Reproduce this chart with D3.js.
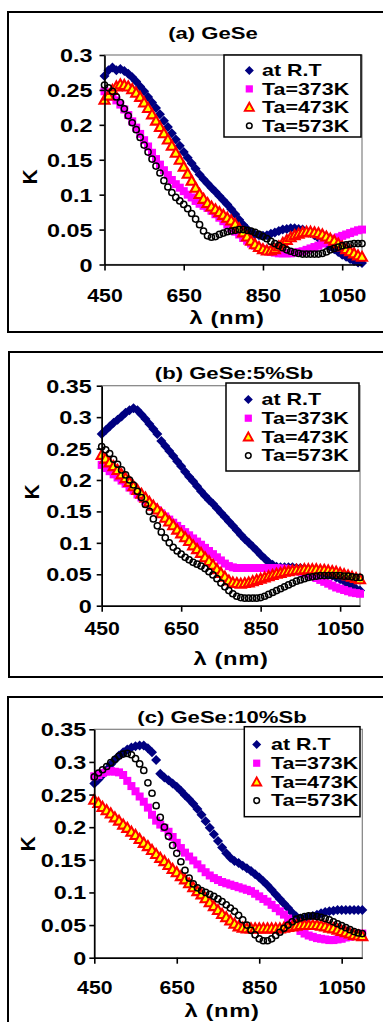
<!DOCTYPE html>
<html>
<head>
<meta charset="utf-8">
<script src="https://cdn.jsdelivr.net/npm/d3@7"></script>
<style>
body { margin: 0; background: #fff; }
svg { display: block; }
text { font-family: "Liberation Sans", Arial, sans-serif; font-weight: bold; fill: #000; }
</style>
</head>
<body>
<div id="chart"></div>
<script>
// wavelength (nm) shared by every series
const wavelengths = [450,460,470,480,490,500,510,520,530,540,
	550,560,570,580,590,600,610,620,630,640,
	650,660,670,680,690,700,710,720,730,740,
	750,760,770,780,790,800,810,820,830,840,
	850,860,870,880,890,900,910,920,930,940,
	950,960,970,980,990,1000,1010,1020,1030,1040,
	1050,1060,1070,1080,1090,1100];

const seriesNames = ["at R.T", "Ta=373K", "Ta=473K", "Ta=573K"];
const panelTitles = ["(a) GeSe", "(b) GeSe:5%Sb", "(c) GeSe:10%Sb"];
const xTicks = [450, 650, 850, 1050];
const yTicksA = [0, 0.05, 0.1, 0.15, 0.2, 0.25, 0.3];
const yTicksB = [0, 0.05, 0.1, 0.15, 0.2, 0.25, 0.3, 0.35];

// (a) GeSe
const kRtA = [0.270,0.278,0.282,0.278,0.280,0.277,0.273,0.268,0.262,0.255,
	0.248,0.240,0.232,0.224,0.215,0.206,0.197,0.188,0.179,0.170,
	0.161,0.153,0.145,0.137,0.129,0.122,0.116,0.110,0.104,0.098,
	0.092,0.086,0.079,0.072,0.064,0.057,0.051,0.046,0.043,0.042,
	0.041,0.042,0.044,0.046,0.048,0.050,0.051,0.052,0.052,0.051,
	0.050,0.048,0.045,0.042,0.038,0.034,0.030,0.026,0.022,0.018,
	0.014,0.011,0.008,0.005,0.003,0.002];
const k373A = [0.248,0.245,0.240,0.235,0.229,0.222,0.214,0.205,0.196,0.187,
	0.178,0.169,0.160,0.151,0.143,0.135,0.128,0.121,0.115,0.110,
	0.105,0.100,0.096,0.091,0.087,0.084,0.081,0.077,0.072,0.067,
	0.062,0.057,0.052,0.047,0.043,0.038,0.034,0.030,0.027,0.024,
	0.022,0.020,0.018,0.017,0.016,0.016,0.016,0.016,0.017,0.018,
	0.019,0.021,0.023,0.025,0.027,0.030,0.032,0.035,0.037,0.039,
	0.041,0.043,0.045,0.047,0.049,0.050];
const k473A = [0.236,0.242,0.250,0.255,0.258,0.257,0.255,0.251,0.246,0.240,
	0.232,0.224,0.215,0.206,0.197,0.188,0.179,0.170,0.160,0.150,
	0.140,0.130,0.120,0.110,0.101,0.094,0.088,0.083,0.079,0.075,
	0.071,0.067,0.063,0.058,0.052,0.046,0.040,0.034,0.029,0.025,
	0.022,0.020,0.020,0.022,0.026,0.031,0.035,0.039,0.042,0.044,
	0.046,0.047,0.047,0.046,0.045,0.043,0.040,0.037,0.034,0.030,
	0.026,0.022,0.019,0.016,0.013,0.011];
const k573A = [0.257,0.253,0.248,0.240,0.232,0.223,0.213,0.203,0.193,0.182,
	0.171,0.161,0.151,0.141,0.131,0.120,0.111,0.103,0.096,0.091,
	0.086,0.080,0.073,0.065,0.057,0.048,0.041,0.039,0.040,0.043,
	0.045,0.047,0.048,0.049,0.050,0.050,0.049,0.048,0.046,0.043,
	0.040,0.037,0.033,0.030,0.027,0.024,0.021,0.019,0.017,0.016,
	0.015,0.015,0.015,0.015,0.015,0.016,0.018,0.021,0.023,0.025,
	0.027,0.028,0.029,0.030,0.030,0.030];

// (b) GeSe:5%Sb
const kRtB = [0.273,0.279,0.285,0.291,0.296,0.301,0.307,0.311,0.314,0.311,
	0.304,0.297,0.289,0.281,0.273,0.262,0.254,0.246,0.238,0.230,
	0.222,0.213,0.205,0.198,0.190,0.182,0.175,0.168,0.162,0.155,
	0.148,0.141,0.134,0.127,0.120,0.113,0.106,0.100,0.094,0.088,
	0.081,0.075,0.069,0.065,0.062,0.061,0.061,0.061,0.061,0.060,
	0.060,0.059,0.058,0.057,0.055,0.053,0.052,0.050,0.048,0.045,
	0.042,0.039,0.035,0.031,0.027,0.024];
const k373B = [0.224,0.219,0.214,0.209,0.204,0.199,0.194,0.188,0.183,0.177,
	0.172,0.167,0.162,0.157,0.152,0.147,0.142,0.137,0.132,0.127,
	0.122,0.117,0.112,0.107,0.102,0.097,0.092,0.087,0.082,0.077,
	0.072,0.067,0.063,0.061,0.060,0.060,0.060,0.060,0.060,0.060,
	0.060,0.060,0.060,0.060,0.060,0.059,0.059,0.058,0.057,0.056,
	0.054,0.052,0.050,0.047,0.044,0.041,0.038,0.035,0.032,0.029,
	0.027,0.025,0.023,0.021,0.020,0.019];
const k473B = [0.240,0.234,0.228,0.222,0.216,0.209,0.203,0.197,0.190,0.184,
	0.178,0.172,0.165,0.159,0.153,0.147,0.140,0.134,0.128,0.121,
	0.115,0.109,0.103,0.096,0.090,0.084,0.077,0.071,0.065,0.058,
	0.052,0.046,0.040,0.037,0.036,0.035,0.036,0.037,0.039,0.041,
	0.043,0.045,0.047,0.049,0.051,0.052,0.054,0.055,0.056,0.057,
	0.057,0.058,0.058,0.058,0.058,0.057,0.057,0.056,0.055,0.054,
	0.052,0.050,0.048,0.046,0.044,0.042];
const k573B = [0.253,0.248,0.242,0.233,0.225,0.216,0.208,0.200,0.192,0.182,
	0.172,0.161,0.150,0.138,0.127,0.117,0.108,0.100,0.093,0.087,
	0.082,0.077,0.073,0.069,0.066,0.063,0.059,0.054,0.049,0.043,
	0.036,0.030,0.024,0.019,0.015,0.013,0.012,0.012,0.012,0.012,
	0.013,0.015,0.018,0.021,0.024,0.027,0.030,0.033,0.036,0.039,
	0.041,0.043,0.045,0.046,0.047,0.048,0.048,0.048,0.048,0.048,
	0.048,0.047,0.047,0.046,0.045,0.045];

// (c) GeSe:10%Sb
const kRtC = [0.267,0.273,0.280,0.288,0.296,0.303,0.310,0.315,0.319,0.322,
	0.324,0.325,0.325,0.321,0.315,0.303,0.282,0.276,0.272,0.267,
	0.262,0.256,0.249,0.243,0.236,0.228,0.219,0.209,0.199,0.189,
	0.179,0.169,0.160,0.153,0.148,0.145,0.141,0.137,0.133,0.128,
	0.123,0.117,0.111,0.104,0.097,0.090,0.083,0.076,0.069,0.063,
	0.060,0.060,0.062,0.064,0.066,0.068,0.070,0.071,0.072,0.073,
	0.073,0.073,0.073,0.073,0.073,0.073];
const k373C = [0.278,0.280,0.283,0.285,0.286,0.285,0.284,0.280,0.271,0.263,
	0.255,0.247,0.239,0.230,0.219,0.210,0.204,0.199,0.193,0.185,
	0.176,0.168,0.161,0.155,0.149,0.143,0.137,0.131,0.126,0.122,
	0.119,0.116,0.114,0.112,0.110,0.108,0.106,0.104,0.102,0.098,
	0.094,0.090,0.086,0.081,0.076,0.071,0.066,0.060,0.054,0.047,
	0.041,0.037,0.034,0.032,0.030,0.029,0.028,0.027,0.027,0.028,
	0.029,0.031,0.032,0.034,0.036,0.037];
const k473C = [0.242,0.237,0.231,0.226,0.221,0.215,0.210,0.204,0.199,0.193,
	0.188,0.182,0.176,0.171,0.165,0.159,0.153,0.148,0.142,0.136,
	0.131,0.125,0.120,0.114,0.108,0.102,0.097,0.091,0.085,0.079,
	0.073,0.067,0.062,0.057,0.052,0.048,0.046,0.045,0.045,0.045,
	0.045,0.045,0.045,0.045,0.045,0.045,0.046,0.047,0.048,0.049,
	0.050,0.050,0.050,0.050,0.050,0.049,0.048,0.046,0.045,0.043,
	0.041,0.039,0.037,0.035,0.034,0.033];
const k573C = [0.277,0.283,0.288,0.293,0.299,0.304,0.309,0.312,0.313,0.311,
	0.305,0.297,0.287,0.268,0.252,0.233,0.215,0.200,0.186,0.172,
	0.160,0.147,0.134,0.122,0.113,0.107,0.103,0.100,0.097,0.094,
	0.090,0.086,0.081,0.076,0.071,0.065,0.058,0.050,0.042,0.035,
	0.029,0.026,0.026,0.029,0.034,0.039,0.045,0.050,0.055,0.059,
	0.061,0.063,0.064,0.064,0.063,0.062,0.060,0.058,0.055,0.052,
	0.049,0.046,0.043,0.040,0.038,0.037];

const markerStyles = [
	{ shape: "diamond", fill: "#000080", stroke: "none" },
	{ shape: "square", fill: "#FF00FF", stroke: "none" },
	{ shape: "triangle", fill: "#FFFF00", stroke: "#FF0000" },
	{ shape: "circle", fill: "none", stroke: "#000000" }
];

// layout of the three stacked panels (frame, plot box, text spots)
const panels = [
	{ title: panelTitles[0], series: [kRtA, k373A, k473A, k573A], yTicks: yTicksA,
	  frame: [8, 12, 400, 320], plot: [104.5, 362, 55, 264.5],
	  titleAt: [213, 39], xLabelAt: [227, 324], kAt: [29, 177],
	  xTickY: 37, yTickGap: 12,
	  legend: { box: [224, 55, 137, 82], row0: 70.5, step: 18.4, mx: 249.3, tx: 262 } },
	{ title: panelTitles[1], series: [kRtB, k373B, k473B, k573B], yTicks: yTicksB,
	  frame: [9, 352, 400, 325], plot: [101.7, 360, 385.7, 605.7],
	  titleAt: [234, 379], xLabelAt: [231, 665], kAt: [31, 492],
	  xTickY: 29, yTickGap: 10,
	  legend: { box: [226, 383, 133, 88], row0: 399.5, step: 18.7, mx: 248.3, tx: 261.5 } },
	{ title: panelTitles[2], series: [kRtC, k373C, k473C, k573C], yTicks: yTicksB,
	  frame: [8, 697, 400, 400], plot: [94.3, 362.3, 729.3, 957.7],
	  titleAt: [222, 723], xLabelAt: [222, 1016.5], kAt: [27.5, 844],
	  xTickY: 36.5, yTickGap: 8,
	  legend: { box: [244.3, 726.7, 115.7, 90], row0: 744.5, step: 18.7, mx: 256.7, tx: 271 } }
];

const svg = d3.select("#chart").append("svg")
	.attr("width", 383)
	.attr("height", 1022);

panels.forEach(drawPanel);

function shapePath(shape) {
	if (shape === "diamond") return "M0,-5L5,0L0,5L-5,0Z";
	if (shape === "square") return "M-4,-4H4V4H-4Z";
	if (shape === "triangle") return "M0,-5L5,4L-5,4Z";
	return null;
}

function addMarker(g, style) {
	if (style.shape === "circle") {
		return g.append("circle").attr("r", 3.1)
			.attr("fill", "none").attr("stroke", style.stroke).attr("stroke-width", 1.5);
	}
	return g.append("path").attr("d", shapePath(style.shape))
		.attr("fill", style.fill)
		.attr("stroke", style.stroke)
		.attr("stroke-width", style.stroke === "none" ? 0 : 2.1);
}

// stretched text, the source figure is wider than normal Arial
function placeText(g, str, x, y, size, sx, anchor) {
	return g.append("text")
		.attr("transform", "translate(" + x + "," + y + ") scale(" + sx + ",1)")
		.attr("font-size", size)
		.attr("text-anchor", anchor)
		.text(str);
}

function drawPanel(p) {
	let g = svg.append("g");
	let [l, r, t, b] = p.plot;

	g.append("rect")
		.attr("x", p.frame[0]).attr("y", p.frame[1])
		.attr("width", p.frame[2]).attr("height", p.frame[3])
		.attr("fill", "#fff").attr("stroke", "#000").attr("stroke-width", 2);

	let x = d3.scaleLinear().domain([450, 1100]).range([l, r]);
	let y = d3.scaleLinear().domain([0, p.yTicks[p.yTicks.length - 1]]).range([b, t]);

	// gray plot-area border (top and right show)
	g.append("rect")
		.attr("x", l).attr("y", t).attr("width", r - l).attr("height", b - t)
		.attr("fill", "none").attr("stroke", "#808080").attr("stroke-width", 1.2);

	// series, drawn in legend order
	p.series.forEach((vals, si) => {
		let style = markerStyles[si];
		let pts = wavelengths.map((w, i) => ({ w: w, k: vals[i] }));
		let sg = g.append("g");
		pts.forEach(d => {
			let m = addMarker(sg, style);
			if (style.shape === "circle") m.attr("cx", x(d.w)).attr("cy", y(d.k));
			else m.attr("transform", "translate(" + x(d.w) + "," + y(d.k) + ")");
		});
	});

	// axes
	let yAxis = g.append("g")
		.attr("transform", "translate(" + l + ",0)")
		.call(d3.axisLeft(y).tickValues(p.yTicks).tickSizeInner(5).tickSizeOuter(0).tickFormat(d => String(d)));
	yAxis.selectAll("text")
		.attr("x", null).attr("dy", null)
		.attr("font-size", 18).attr("font-family", null)
		.attr("transform", "translate(" + (-p.yTickGap) + ",6.5) scale(1.3,1)");

	let xAxis = g.append("g")
		.attr("transform", "translate(0," + b + ")")
		.call(d3.axisBottom(x).tickValues(xTicks).tickSizeInner(6).tickSizeOuter(0).tickFormat(d => String(d)));
	xAxis.selectAll("text")
		.attr("y", null).attr("dy", null)
		.attr("font-size", 18).attr("font-family", null)
		.attr("transform", "translate(0," + p.xTickY + ") scale(1.18,1)");

	g.selectAll(".domain, .tick line")
		.attr("stroke", "#000").attr("stroke-width", 1.6);

	// titles and axis labels
	placeText(g, p.title, p.titleAt[0], p.titleAt[1], 17, 1.3, "middle");
	placeText(g, "λ (nm)", p.xLabelAt[0], p.xLabelAt[1], 19, 1.25, "middle")
		.attr("letter-spacing", 0.5);
	g.append("text")
		.attr("transform", "translate(" + (p.kAt[0] + 7.5) + "," + p.kAt[1] + ") rotate(-90)")
		.attr("font-size", 21)
		.attr("text-anchor", "middle")
		.text("K");

	// legend
	let lg = p.legend;
	g.append("rect")
		.attr("x", lg.box[0]).attr("y", lg.box[1])
		.attr("width", lg.box[2]).attr("height", lg.box[3])
		.attr("fill", "#fff").attr("stroke", "#000").attr("stroke-width", 1.5);
	seriesNames.forEach((name, i) => {
		let cy = lg.row0 + i * lg.step;
		let m = addMarker(g, markerStyles[i]);
		if (markerStyles[i].shape === "circle") m.attr("cx", lg.mx).attr("cy", cy).attr("r", 2.8);
		else m.attr("transform", "translate(" + lg.mx + "," + cy + ") scale(0.9)");
		placeText(g, name, lg.tx, cy + 5.8, 16, 1.34, "start");
	});
}
</script>
</body>
</html>
